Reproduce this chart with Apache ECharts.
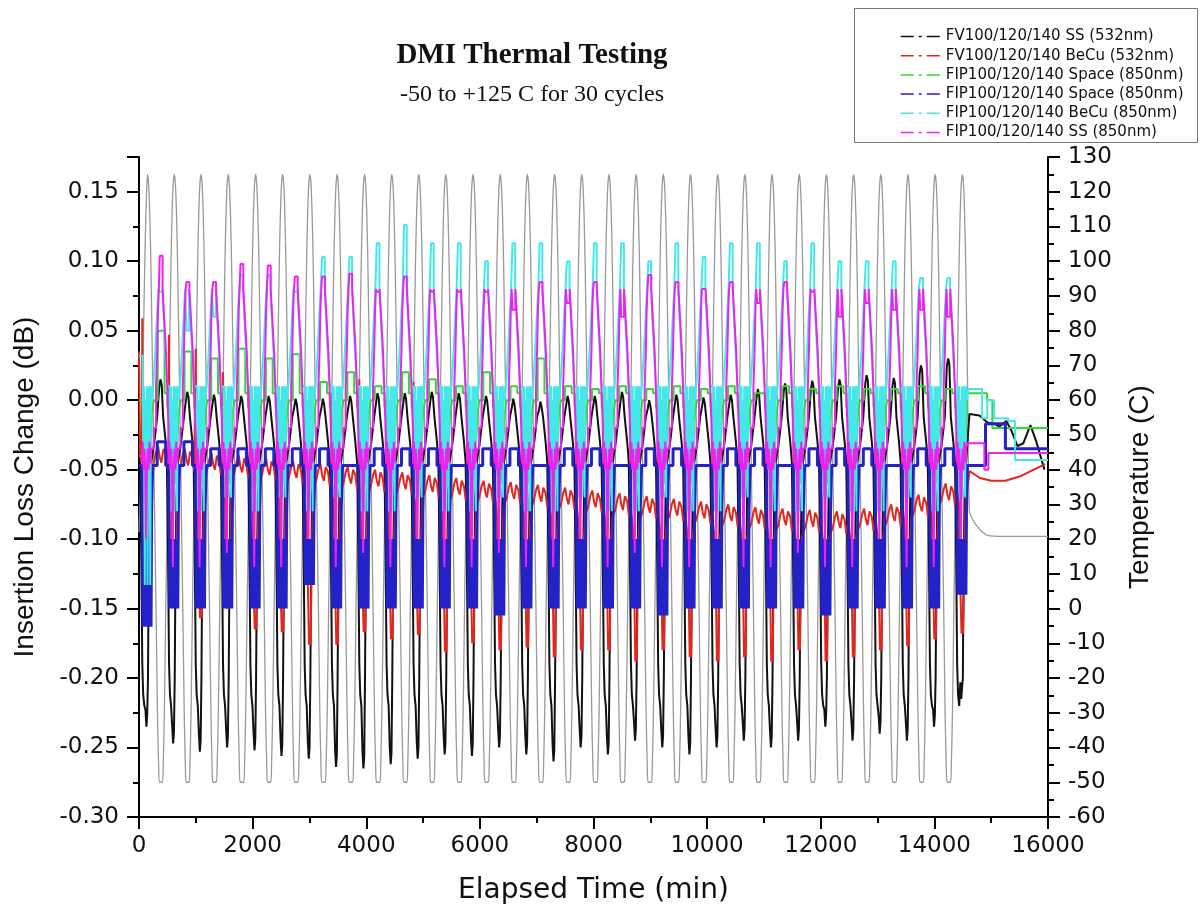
<!DOCTYPE html>
<html><head><meta charset="utf-8">
<script src="https://cdn.jsdelivr.net/npm/echarts@6/dist/echarts.min.js"></script>
<style>html,body{margin:0;padding:0;background:#fff}#c{width:1203px;height:911px}</style>
</head><body><div id="c"></div>
<script>
// ---------- data ----------
// time (min) of each temperature peak (+125 C)
const peakTimes = [150, 621, 1091, 1571, 2053, 2528, 3008, 3488, 3970, 4450, 4925, 5400, 5880, 6359, 6837, 7316, 7794, 8273, 8751, 9230, 9708, 10187, 10665, 11143, 11622, 12100, 12579, 13057, 13536, 14014, 14493];

// temperature shape: [minutes from peak, C]
const tempStart = [[0, 22], [40, 45], [80, 80], [110, 106], [130, 118]];
const tempDown = [[0, 125], [20, 122], [40, 113], [60, 98], [90, 66], [120, 33], [150, 0], [175, -30], [195, -45], [210, -50]];
const tempUp = [[-210, -50], [-195, -45], [-175, -30], [-150, 0], [-120, 33], [-90, 66], [-60, 98], [-40, 113], [-20, 122]];
const tempEnd = [[14617, 28], [14680, 25.5], [14760, 23.5], [14850, 22], [14950, 21], [15200, 20.8], [16000, 20.8]];

// FV SS 532nm (black)
const blackHot = [-0.235, -0.247, -0.253, -0.250, -0.252, -0.256, -0.258, -0.264, -0.265, -0.262, -0.258, -0.255, -0.256, -0.250, -0.255, -0.260, -0.250, -0.255, -0.245, -0.250, -0.255, -0.250, -0.245, -0.250, -0.245, -0.235, -0.245, -0.240, -0.245, -0.235, -0.215];
const blackCold = [0.015, 0.006, 0.004, 0.003, 0.003, 0.001, 0.001, 0.003, 0.005, 0.005, 0.006, 0.005, 0.003, 0.001, -0.001, 0.003, 0.003, 0.006, 0.000, 0.004, 0.002, 0.004, 0.008, 0.012, 0.014, 0.015, 0.018, 0.016, 0.025, 0.030];
const blackStart = [[0, -0.03]];
const blackHotShape = [[-130, -0.045], [-110, -0.11], [-92, -0.19], [-76, -0.212], [-56, -0.22], [-36, ['h', 0.012]], [-20, ['h']], [-6, ['h', 0.008]], [8, -0.2], [20, -0.13], [38, -0.07], [65, -0.045]];
const blackColdShape = [[120, -0.03], [170, -0.012], [205, ['c', -0.006]], [228, ['c']], [250, ['c', -0.004]], [275, -0.012], [320, -0.03], [340, -0.04]];
const blackEnd = [[14617, -0.010], [14793, -0.011], [14934, -0.016], [15057, -0.017], [15145, -0.019], [15268, -0.015], [15356, -0.022], [15462, -0.033], [15567, -0.031], [15690, -0.018], [15796, -0.030], [15937, -0.050]];

// FV BeCu 532nm (red)
const redBase = [-0.045, -0.047, -0.050, -0.052, -0.054, -0.056, -0.058, -0.060, -0.062, -0.064, -0.066, -0.068, -0.070, -0.071, -0.073, -0.075, -0.077, -0.079, -0.081, -0.083, -0.085, -0.087, -0.089, -0.090, -0.091, -0.092, -0.090, -0.087, -0.080, -0.072, -0.065];
const redHot = [-0.120, -0.140, -0.157, -0.150, -0.165, -0.167, -0.176, -0.176, -0.167, -0.172, -0.169, -0.181, -0.175, -0.180, -0.178, -0.185, -0.180, -0.180, -0.188, -0.180, -0.185, -0.188, -0.185, -0.188, -0.180, -0.188, -0.185, -0.180, -0.177, -0.172, -0.168];
const redSpike = [0.059, 0.047, 0.037, 0.020, 0.010, 0.000, -0.010, 0.005, 0.015, 0.000, 0.013, -0.005, 0.000, -0.010, -0.015, -0.010, -0.020, -0.015, -0.020, -0.020, -0.025, -0.020, -0.030, -0.025, -0.030, -0.030, -0.035, -0.030, -0.035, -0.040, -0.030];
const redStart = [[0, 0.035], [20, -0.04]];
const redHotShape = [[-100, ['b']], [-92, ['s']], [-84, ['b']], [-60, ['b', -0.01]], [-45, -0.11], [-30, -0.145], [-15, ['h']], [0, ['h', 0.01]], [12, ['h']], [25, -0.14], [40, -0.1], [60, ['b', -0.005]]];
const redColdShape = [[110, ['b']], [150, ['b', 0.008]], [185, ['b', 0.012]], [215, ['b', 0.004]], [245, ['b']], [280, ['b', 0.01]], [320, ['b', 0.006]], [350, ['b', -0.004]]];
const redEnd = [[14620, -0.051], [14800, -0.056], [15000, -0.058], [15250, -0.058], [15500, -0.055], [15750, -0.050], [15950, -0.046]];

// FIP Space 850nm (green)
const greenHot = [-0.06, -0.06, -0.06, -0.06, -0.06, -0.06, -0.06, -0.06, -0.06, -0.06, -0.06, -0.06, -0.06, -0.06, -0.06, -0.06, -0.06, -0.06, -0.06, -0.06, -0.06, -0.06, -0.06, -0.06, -0.06, -0.06, -0.06, -0.06, -0.06, -0.06, -0.05];
const greenCold = [0.050, 0.035, 0.030, 0.037, 0.030, 0.033, 0.013, 0.020, 0.010, 0.020, 0.015, 0.010, 0.020, 0.010, 0.030, 0.010, 0.008, 0.010, 0.008, 0.010, 0.008, 0.010, 0.005, 0.010, 0.008, 0.010, 0.008, 0.008, 0.010, 0.008];
const greenStart = [[0, 0.0]];
const greenHotShape = [[-85, -0.01], [-60, -0.05], [-30, ['h']], [0, -0.05], [30, ['h']], [55, -0.03], [75, -0.01]];
const greenColdShape = [[110, 0.0], [180, ['c']], [300, 0.005], [350, -0.005]];
const greenEnd = [[14580, 0.005], [14930, 0.0], [15020, -0.02], [16000, -0.02]];

// FIP Space 850nm (blue)
const blueHot = [-0.163, -0.150, -0.150, -0.150, -0.150, -0.150, -0.133, -0.150, -0.150, -0.150, -0.150, -0.150, -0.150, -0.155, -0.150, -0.150, -0.150, -0.150, -0.150, -0.155, -0.150, -0.150, -0.150, -0.150, -0.150, -0.155, -0.150, -0.150, -0.150, -0.150, -0.140];
const blueCold = [-0.030, -0.030, -0.035, -0.035, -0.035, -0.035, -0.035, -0.047, -0.035, -0.035, -0.035, -0.047, -0.035, -0.035, -0.047, -0.035, -0.035, -0.047, -0.035, -0.035, -0.047, -0.035, -0.035, -0.047, -0.035, -0.035, -0.035, -0.047, -0.035, -0.035];
const blueStart = [[0, -0.047]];
const blueHotShape = [[-100, -0.06], [-90, -0.1], [-80, ['h']], [-68, -0.125], [-56, ['h']], [-44, -0.1], [-32, ['h']], [-20, -0.125], [-8, ['h']], [4, -0.1], [16, ['h']], [28, -0.125], [40, ['h']], [52, -0.1], [62, ['h']], [72, -0.08], [82, -0.06]];
const blueColdShape = [[95, -0.047], [170, ['c']], [320, -0.047]];
const blueEnd = [[14580, -0.047], [14900, -0.017], [15250, -0.035], [16000, -0.035]];

// FIP BeCu 850nm (cyan)
const cyanHot = [-0.133, -0.08, -0.08, -0.07, -0.08, -0.07, -0.08, -0.07, -0.08, -0.08, -0.07, -0.08, -0.08, -0.07, -0.08, -0.08, -0.07, -0.08, -0.08, -0.07, -0.08, -0.08, -0.07, -0.08, -0.08, -0.07, -0.08, -0.08, -0.07, -0.08, -0.07];
const cyanCold = [0.078, 0.050, 0.060, 0.090, 0.090, 0.078, 0.103, 0.103, 0.113, 0.126, 0.113, 0.113, 0.100, 0.113, 0.113, 0.100, 0.113, 0.113, 0.100, 0.113, 0.103, 0.113, 0.113, 0.100, 0.113, 0.100, 0.100, 0.100, 0.088, 0.088];
const cyanStart = [[0, 0.032]];
const cyanHotShape = [[-85, 0.01], [-72, -0.04], [-60, 0.01], [-48, ['h']], [-36, 0.0], [-24, -0.06], [-12, 0.01], [0, ['h']], [12, 0.01], [24, -0.05], [36, 0.01], [48, ['h']], [60, 0.01], [75, 0.0]];
const cyanColdShape = [[100, 0.01], [130, 0.03], [160, 0.055], [190, 0.08], [215, ['c']], [262, 0.08], [290, 0.055], [320, 0.03], [350, 0.01]];
const cyanEnd = [[14600, 0.008], [14840, -0.013], [14930, 0.0], [15050, -0.013], [15300, -0.015], [15420, -0.043], [16000, -0.043]];

// FIP SS 850nm (magenta)
const magHot = [-0.10, -0.12, -0.12, -0.11, -0.12, -0.12, -0.10, -0.12, -0.11, -0.12, -0.10, -0.12, -0.12, -0.11, -0.12, -0.12, -0.10, -0.12, -0.11, -0.12, -0.12, -0.10, -0.12, -0.12, -0.11, -0.12, -0.12, -0.10, -0.12, -0.12, -0.10];
const magCold = [0.104, 0.085, 0.085, 0.098, 0.097, 0.089, 0.089, 0.091, 0.078, 0.089, 0.078, 0.078, 0.078, 0.065, 0.085, 0.070, 0.085, 0.060, 0.090, 0.085, 0.080, 0.085, 0.070, 0.085, 0.078, 0.060, 0.070, 0.065, 0.065, 0.060];
const magStart = [[0, -0.04]];
const magHotShape = [[-100, -0.045], [-85, -0.03], [-70, -0.05], [-55, -0.035], [-40, -0.05], [-25, ['h']], [-10, -0.05], [5, -0.035], [20, -0.05], [35, -0.03], [50, -0.045], [65, -0.035]];
const magColdShape = [[110, -0.02], [150, 0.01], [170, 0.035], [185, 0.065], [200, 0.08], [215, ['c']], [265, 0.08], [285, 0.065], [305, 0.05], [325, 0.035], [345, 0.01], [370, -0.02]];
const magEnd = [[14580, -0.031], [14880, -0.05], [14950, -0.038], [16000, -0.038]];

const seriesNames = ['FV100/120/140 SS (532nm)', 'FV100/120/140 BeCu (532nm)', 'FIP100/120/140 Space (850nm)', 'FIP100/120/140 Space (850nm) ', 'FIP100/120/140 BeCu (850nm)', 'FIP100/120/140 SS (850nm)'];

// ---------- build point lists ----------
function push(pts, p) { if (!pts.length || p[0] > pts[pts.length - 1][0]) pts.push(p); }
function buildTemp() {
  const pts = tempStart.map(p => p.slice());
  const last = peakTimes.length - 1;
  peakTimes.forEach((P, k) => {
    tempDown.forEach(([dt, v]) => { if (k < last || dt <= 90) push(pts, [P + dt, v]); });
    if (k < last) tempUp.forEach(([dt, v]) => push(pts, [peakTimes[k + 1] + dt, v]));
  });
  tempEnd.forEach(p => push(pts, p));
  return pts;
}
function pick(s, k, per) {
  if (typeof s === 'number') return s;
  return +(per[s[0]][k] + (s[1] || 0)).toFixed(4);
}
function buildIL(start, hot, cold, per, end) {
  const pts = start.map(p => p.slice());
  const last = peakTimes.length - 1;
  peakTimes.forEach((P, k) => {
    hot.forEach(([dt, s]) => push(pts, [P + dt, pick(s, k, per)]));
    if (k < last) cold.forEach(([dt, s]) => push(pts, [P + dt, pick(s, k, per)]));
  });
  end.forEach(p => push(pts, p));
  return pts;
}

const tempData = buildTemp();
const blackData = buildIL(blackStart, blackHotShape, blackColdShape, { h: blackHot, c: blackCold }, blackEnd);
const redData = buildIL(redStart, redHotShape, redColdShape, { h: redHot, b: redBase, s: redSpike }, redEnd);
const greenData = buildIL(greenStart, greenHotShape, greenColdShape, { h: greenHot, c: greenCold }, greenEnd);
const blueData = buildIL(blueStart, blueHotShape, blueColdShape, { h: blueHot, c: blueCold }, blueEnd);
const cyanData = buildIL(cyanStart, cyanHotShape, cyanColdShape, { h: cyanHot, c: cyanCold }, cyanEnd);
const magData = buildIL(magStart, magHotShape, magColdShape, { h: magHot, c: magCold }, magEnd);

// ---------- chart ----------
const chart = echarts.init(document.getElementById('c'), null, { renderer: 'canvas' });
const lbl = { fontFamily: 'DejaVu Sans', fontSize: 23, color: '#111' };
function il(name, data, color, step, width) {
  return { name, type: 'line', data, yAxisIndex: 0, showSymbol: false, symbol: 'none', step: step ? 'end' : false,
    lineStyle: { color, width: width || 2 }, itemStyle: { color }, emphasis: { disabled: true }, silent: true };
}
chart.setOption({
  animation: false,
  backgroundColor: '#fff',
  title: [
    { text: 'DMI Thermal Testing', left: 527, top: 36, textAlign: 'center',
      textStyle: { fontFamily: 'Liberation Serif', fontWeight: 'bold', fontSize: 29, color: '#111' } },
    { text: '-50 to +125 C for 30 cycles', left: 527, top: 78, textAlign: 'center',
      textStyle: { fontFamily: 'Liberation Serif', fontWeight: 'normal', fontSize: 24, color: '#111' } }
  ],
  graphic: [
    { type: 'rect', shape: { x: 854.5, y: 8.5, width: 343, height: 134 }, style: { fill: '#fff', stroke: '#777', lineWidth: 1 }, z: 0 }
  ],
  legend: {
    orient: 'vertical', left: 900, top: 27, padding: 0,
    itemWidth: 40, itemHeight: 14, itemGap: 0.2,
    data: seriesNames,
    textStyle: { fontFamily: 'DejaVu Sans', fontSize: 15, color: '#111', lineHeight: 19 },
    itemStyle: { opacity: 0, borderWidth: 0 },
    lineStyle: { type: [13, 5, 3, 5], width: 1.5, opacity: 1 },
    selectedMode: false
  },
  grid: { left: 139, right: 155, top: 157, bottom: 94, containLabel: false },
  xAxis: {
    type: 'value', min: 0, max: 16000, interval: 2000,
    name: 'Elapsed Time (min)', nameLocation: 'middle', nameGap: 60,
    nameTextStyle: { fontFamily: 'DejaVu Sans', fontSize: 28, color: '#111' },
    axisLine: { show: true, onZero: false, lineStyle: { color: '#000', width: 2 } },
    axisTick: { show: true, inside: false, length: 12, lineStyle: { color: '#000', width: 2 } },
    minorTick: { show: true, splitNumber: 2, length: 6, lineStyle: { color: '#000', width: 2 } },
    axisLabel: Object.assign({ margin: 18, formatter: v => String(v) }, lbl),
    splitLine: { show: false }
  },
  yAxis: [
    {
      type: 'value', min: -0.3, max: 0.175, interval: 0.05, position: 'left',
      name: 'Insertion Loss Change (dB)', nameLocation: 'middle', nameGap: 100, nameRotate: 90,
      nameTextStyle: { fontFamily: 'Liberation Sans', fontSize: 28, color: '#111' },
      axisLine: { show: true, onZero: false, lineStyle: { color: '#000', width: 2 } },
      axisTick: { show: true, inside: false, length: 12, lineStyle: { color: '#000', width: 2 } },
      minorTick: { show: true, splitNumber: 2, length: 6, lineStyle: { color: '#000', width: 2 } },
      axisLabel: Object.assign({ margin: 20, showMaxLabel: false, formatter: v => v.toFixed(2) }, lbl),
      splitLine: { show: false }
    },
    {
      type: 'value', min: -60, max: 130, interval: 10, position: 'right',
      name: 'Temperature (C)', nameLocation: 'middle', nameGap: 78, nameRotate: 90,
      nameTextStyle: { fontFamily: 'Liberation Sans', fontSize: 28, color: '#111' },
      axisLine: { show: true, onZero: false, lineStyle: { color: '#000', width: 2 } },
      axisTick: { show: true, inside: false, length: 12, lineStyle: { color: '#000', width: 2 } },
      minorTick: { show: true, splitNumber: 2, length: 6, lineStyle: { color: '#000', width: 2 } },
      axisLabel: Object.assign({ margin: 20 }, lbl),
      splitLine: { show: false }
    }
  ],
  series: [
    { name: 'Temperature', type: 'line', data: tempData, yAxisIndex: 1, showSymbol: false, symbol: 'none', smooth: 0.3,
      lineStyle: { color: '#999999', width: 1.3 }, itemStyle: { color: '#999999' }, emphasis: { disabled: true }, silent: true },
    il(seriesNames[0], blackData, '#111111', false, 2),
    il(seriesNames[1], redData, '#e4261c', false, 2),
    il(seriesNames[2], greenData, '#33d633', true, 2),
    il(seriesNames[3], blueData, '#2222c8', true, 3),
    il(seriesNames[4], cyanData, '#44e8e8', true, 2),
    il(seriesNames[5], magData, '#ee22ee', true, 2)
  ]
});
</script></body></html>
